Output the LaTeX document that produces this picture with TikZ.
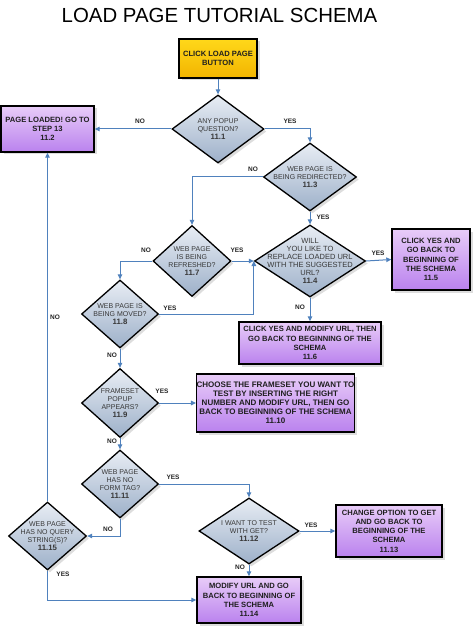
\documentclass[tikz,border=0pt]{standalone}
\usepackage{fontspec}
\setmainfont{Liberation Sans}
\usetikzlibrary{shapes.geometric,arrows.meta,shadows}
\definecolor{arr}{HTML}{4F81BD}
\definecolor{diaTop}{HTML}{E8EDF4}
\definecolor{diaBot}{HTML}{9DB0C9}
\definecolor{purTop}{HTML}{E8CCF8}
\definecolor{purBot}{HTML}{BA82EE}
\definecolor{yelTop}{HTML}{FFD81A}
\definecolor{yelBot}{HTML}{F2B400}
\begin{document}
\begin{tikzpicture}[x=1pt,y=-1pt,
  shad/.style={drop shadow={shadow xshift=2.5pt,shadow yshift=-2.5pt,opacity=0.22,fill=black!60}},
  box/.style={draw=black,line width=1.4pt,rectangle,inner sep=0,shad,align=center,
     font=\bfseries\fontsize{7.6}{9.2}\selectfont,text=black!88},
  purp/.style={box,top color=purTop,bottom color=purBot},
  yel/.style={box,top color=yelTop,bottom color=yelBot},
  dia/.style={draw=black,line width=1.3pt,diamond,inner sep=0,top color=diaTop,bottom color=diaBot,shad},
  dtext/.style={align=center,inner sep=0,text=black!78,font=\fontsize{7}{8.2}\selectfont},
  lab/.style={inner sep=0,font=\bfseries\fontsize{6.5}{7}\selectfont,text=black!85},
  conn/.style={draw=arr,line width=1pt,-{Triangle[length=5pt,width=4.5pt]}}
]
\useasboundingbox (0,0) rectangle (474,628);
\fill[white] (0,0) rectangle (474,628);

\node[inner sep=0,font=\fontsize{20.4}{22}\selectfont] (title) at (219.5,15) {LOAD PAGE TUTORIAL SCHEMA};

% boxes
\node[yel,minimum width=78,minimum height=39] (b0) at (218,58.5) {CLICK LOAD PAGE\\BUTTON};
\node[purp,minimum width=93,minimum height=46] (b2) at (47.5,129) {PAGE LOADED! GO TO\\STEP 13\\11.2};
\node[purp,minimum width=78,minimum height=61] (b5) at (431,259.5) {CLICK YES AND\\GO BACK TO\\BEGINNING OF\\THE SCHEMA\\11.5};
\node[purp,minimum width=142,minimum height=42] (b6) at (310,343) {CLICK YES AND MODIFY URL, THEN\\GO BACK TO BEGINNING OF THE\\SCHEMA\\11.6};
\node[purp,minimum width=157,minimum height=58,font=\bfseries\fontsize{8}{9.1}\selectfont] (b10) at (275.5,403) {CHOOSE THE FRAMESET YOU WANT TO\\TEST BY INSERTING THE RIGHT\\NUMBER AND MODIFY URL, THEN GO\\BACK TO BEGINNING OF THE SCHEMA\\11.10};
\node[purp,minimum width=106,minimum height=52] (b13) at (389,531) {CHANGE OPTION TO GET\\AND GO BACK TO\\BEGINNING OF THE\\SCHEMA\\11.13};
\node[purp,minimum width=104,minimum height=46] (b14) at (249,600) {MODIFY URL AND GO\\BACK TO BEGINNING OF\\THE SCHEMA\\11.14};

% diamonds
\node[dia,minimum width=92,minimum height=68] (d1) at (218,129) {};
\node[dtext] at (d1) {ANY POPUP\\QUESTION?\\\textbf{\fontsize{7.8}{8.2}\selectfont 11.1}};
\node[dia,minimum width=93,minimum height=68] (d3) at (310,177) {};
\node[dtext] at (d3) {WEB PAGE IS\\BEING REDIRECTED?\\\textbf{\fontsize{7.8}{8.2}\selectfont 11.3}};
\node[dia,minimum width=111,minimum height=72] (d4) at (310,261) {};
\node[dtext,font=\fontsize{7.5}{8}\selectfont] at (d4) {WILL\\YOU LIKE TO\\REPLACE LOADED URL\\WITH THE SUGGESTED\\URL?\\\textbf{\fontsize{7.8}{9.5}\selectfont 11.4}};
\node[dia,minimum width=78,minimum height=71] (d7) at (192,261) {};
\node[dtext] at (d7) {WEB PAGE\\IS BEING\\REFRESHED?\\\textbf{\fontsize{7.8}{8.8}\selectfont 11.7}};
\node[dia,minimum width=77,minimum height=68] (d8) at (120,314) {};
\node[dtext] at (d8) {WEB PAGE IS\\BEING MOVED?\\\textbf{\fontsize{7.8}{9}\selectfont 11.8}};
\node[dia,minimum width=77,minimum height=69] (d9) at (120,403) {};
\node[dtext] at (d9) {FRAMESET\\POPUP\\APPEARS?\\\textbf{\fontsize{7.8}{9}\selectfont 11.9}};
\node[dia,minimum width=77,minimum height=68] (d11) at (120,484) {};
\node[dtext] at (d11) {WEB PAGE\\HAS NO\\FORM TAG?\\\textbf{\fontsize{7.8}{9}\selectfont 11.11}};
\node[dia,minimum width=100,minimum height=66] (d12) at (249,531) {};
\node[dtext] at (d12) {I WANT TO TEST\\WITH GET?\\\textbf{\fontsize{7.8}{9}\selectfont 11.12}};
\node[dia,minimum width=78,minimum height=68] (d15) at (47.5,536) {};
\node[dtext] at (d15) {WEB PAGE\\HAS NO QUERY\\STRING(S)?\\\textbf{\fontsize{7.8}{9}\selectfont 11.15}};

% connectors
\draw[conn] (b0) -- (d1);
\draw[conn] (d1.west) -- (b2.east);
\node[lab] (l1) at (140,121) {NO};
\draw[conn] (d1.east) -| (d3.north);
\node[lab] (l2) at (290,121) {YES};
\draw[conn] (d3.west) -| (d7.north);
\node[lab] (l3) at (253,169) {NO};
\draw[conn] (d3.south) -- (d4.north);
\node[lab] (l4) at (323,217) {YES};
\draw[conn] (d4.east) -- (b5.west);
\node[lab] (l5) at (378,253) {YES};
\draw[conn] (d4.south) -- (b6.north);
\node[lab] (l6) at (300,307) {NO};
\draw[conn] (d7.east) -- (d4.west);
\node[lab] (l7) at (237,250) {YES};
\draw[conn] (d7.west) -| (d8.north);
\node[lab] (l8) at (146,250) {NO};
\draw[conn] (d8.east) -| (d4.west);
\node[lab] (l9) at (170,308) {YES};
\draw[conn] (d8.south) -- (d9.north);
\node[lab] (l10) at (112,355) {NO};
\draw[conn] (d9.east) -- (b10.west);
\node[lab] (l11) at (162,391) {YES};
\draw[conn] (d9.south) -- (d11.north);
\node[lab] (l12) at (112,441) {NO};
\draw[conn] (d11.east) -| (d12.north);
\node[lab] (l13) at (173,477) {YES};
\draw[conn] (d11.south) |- (d15.east);
\node[lab] (l14) at (108,529) {NO};
\draw[conn] (d15.north) -- (b2.south);
\node[lab] (l15) at (55,317) {NO};
\draw[conn] (d15.south) |- (b14.west);
\node[lab] (l16) at (63,574) {YES};
\draw[conn] (d12.east) -- (b13.west);
\node[lab] (l17) at (311,525) {YES};
\draw[conn] (d12.south) -- (b14.north);
\node[lab] (l18) at (240,567) {NO};
\end{tikzpicture}
\end{document}
